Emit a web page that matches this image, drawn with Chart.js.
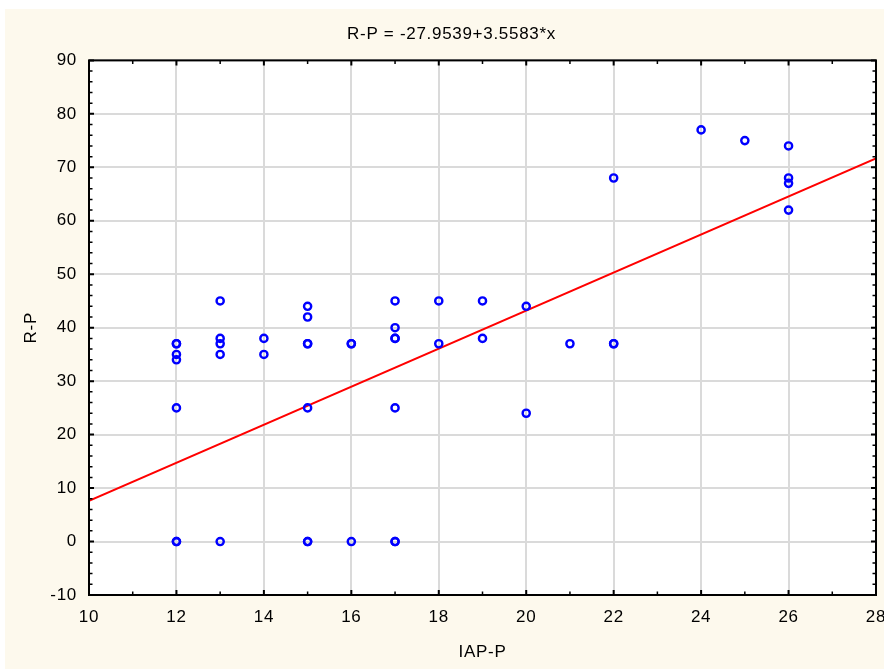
<!DOCTYPE html>
<html>
<head>
<meta charset="utf-8">
<script src="https://cdn.jsdelivr.net/npm/chart.js@4/dist/chart.umd.min.js"></script>
<style>
  html, body { margin: 0; padding: 0; background: #ffffff; }
  canvas { display: block; }
</style>
</head>
<body>
<canvas id="c" width="884" height="670"></canvas>
<script>
// ---- data ----
const iapP = [12,12,12,12,12,12,12, 13,13,13,13,13, 14,14, 15,15,15,15,15,15,15, 16,16,16,
              17,17,17,17,17,17,17, 18,18, 19,19, 20,20, 21, 22,22,22, 24, 25, 26,26,26,26];
const rP   = [37,37,35,34,25,0,0, 45,38,37,35,0, 38,35, 44,42,37,37,25,0,0, 37,37,0,
              45,40,38,38,25,0,0, 45,37, 45,38, 44,24, 37, 68,37,37, 77, 75, 74,68,67,62];
const intercept = -27.9539;
const slope = 3.5583;
const xRange = [10, 28];
const yRange = [-10, 90];
const xTickLabels = [10,12,14,16,18,20,22,24,26,28];
const yTickLabels = [-10,0,10,20,30,40,50,60,70,80,90];
const titleText = 'R-P = -27.9539+3.5583*x';
const xTitle = 'IAP-P';
const yTitle = 'R-P';

const FONT = "'Liberation Sans', Arial, sans-serif";
const scatterData = iapP.map((v, i) => ({ x: v, y: rP[i] }));
const fitData = xRange.map(v => ({ x: v, y: intercept + slope * v }));

const spacing = {
  id: 'spacing',
  beforeUpdate(chart) { chart.ctx.letterSpacing = '0.7px'; },
  beforeDraw(chart) { chart.ctx.letterSpacing = '0.7px'; }
};

const background = {
  id: 'background',
  beforeDraw(chart) {
    const { ctx, chartArea: a, width, height } = chart;
    ctx.save();
    ctx.fillStyle = '#ffffff';
    ctx.fillRect(0, 0, width, height);
    ctx.fillStyle = '#fdf9ed';
    ctx.fillRect(5, 9, width - 5, height - 10);
    ctx.fillStyle = '#ffffff';
    ctx.fillRect(a.left, a.top, a.right - a.left, a.bottom - a.top);
    ctx.restore();
  }
};

const frame = {
  id: 'frame',
  afterDraw(chart) {
    const { ctx, chartArea: a, scales: { x, y } } = chart;
    ctx.save();
    ctx.strokeStyle = '#000000';
    ctx.lineCap = 'butt';
    for (let v = xRange[0]; v <= xRange[1]; v += 1) {
      const major = xTickLabels.includes(v);
      const px = x.getPixelForValue(v);
      const len = major ? 5 : 3.5;
      ctx.lineWidth = major ? 2 : 1.5;
      ctx.beginPath();
      ctx.moveTo(px, a.bottom); ctx.lineTo(px, a.bottom - len);
      ctx.moveTo(px, a.top); ctx.lineTo(px, a.top + len);
      ctx.stroke();
    }
    for (let v = yRange[0]; v <= yRange[1]; v += 2) {
      const major = yTickLabels.includes(v);
      const py = y.getPixelForValue(v);
      const len = major ? 5 : 3.5;
      ctx.lineWidth = major ? 2 : 1.5;
      ctx.beginPath();
      ctx.moveTo(a.left, py); ctx.lineTo(a.left + len, py);
      ctx.moveTo(a.right, py); ctx.lineTo(a.right - len, py);
      ctx.stroke();
    }
    ctx.lineWidth = 2;
    ctx.strokeRect(a.left, a.top, a.right - a.left, a.bottom - a.top);
    ctx.restore();
  }
};

new Chart(document.getElementById('c'), {
  type: 'scatter',
  data: {
    datasets: [
      {
        label: 'R-P',
        data: scatterData,
        showLine: false,
        pointStyle: 'circle',
        pointRadius: 3.6,
        pointBorderWidth: 2.4,
        pointBorderColor: '#0000ff',
        pointBackgroundColor: 'rgba(0,0,0,0)',
        order: 1
      },
      {
        label: 'fit',
        type: 'line',
        data: fitData,
        borderColor: '#ff0000',
        borderWidth: 2,
        pointRadius: 0,
        fill: false,
        tension: 0,
        order: 2
      }
    ]
  },
  options: {
    responsive: false,
    animation: false,
    devicePixelRatio: 1,
    layout: { padding: { left: 27, top: 10, right: 8, bottom: 0 } },
    plugins: {
      legend: { display: false },
      tooltip: { enabled: false },
      title: {
        display: true,
        text: titleText,
        color: '#000000',
        font: { family: FONT, size: 17, weight: 'normal' },
        padding: { top: 14, bottom: 16 }
      }
    },
    scales: {
      x: {
        type: 'linear',
        min: xRange[0], max: xRange[1],
        afterFit(s) { s.height = 75; s.paddingLeft = 0; s.paddingRight = 0; },
        afterBuildTicks(s) { s.ticks = xTickLabels.map(v => ({ value: v })); },
        ticks: { color: '#000000', padding: 12, maxRotation: 0, autoSkip: false,
                 font: { family: FONT, size: 17 } },
        grid: { color: '#dadada', lineWidth: 2, drawTicks: false },
        border: { display: false },
        title: { display: true, text: xTitle, color: '#000000',
                 font: { family: FONT, size: 17 }, padding: { top: 0, bottom: 7 } }
      },
      y: {
        type: 'linear',
        min: yRange[0], max: yRange[1],
        afterFit(s) { s.width = 62; },
        afterBuildTicks(s) { s.ticks = yTickLabels.map(v => ({ value: v })); },
        ticks: { color: '#000000', padding: 12, autoSkip: false,
                 font: { family: FONT, size: 17 } },
        grid: { color: '#dadada', lineWidth: 2, drawTicks: false },
        border: { display: false },
        title: { display: true, text: yTitle, color: '#000000',
                 font: { family: FONT, size: 17 }, padding: { top: -6, bottom: 0 } }
      }
    }
  },
  plugins: [spacing, background, frame]
});
</script>
</body>
</html>
